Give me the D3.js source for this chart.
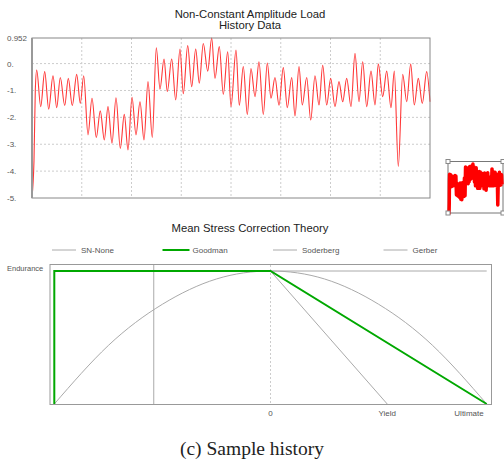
<!DOCTYPE html>
<html>
<head>
<meta charset="utf-8">
<script src="https://cdn.jsdelivr.net/npm/d3@7"></script>
<style>
  body { margin: 0; background: #fff; }
  text { font-family: "Liberation Sans", Arial, sans-serif; }
</style>
</head>
<body>
<div id="chart"></div>
<script>
// Load history (time index, load value)
var historyTime = [0, 2, 3.3, 4.7, 8.7, 12.7, 16.7, 21, 24.7, 28.3, 32.7, 36.3, 40.3, 44.7, 48.3, 51.7,
  56, 60, 64.3, 68.3, 72.3, 76, 80, 84, 88.3, 92.3, 96, 100, 104, 108, 112, 116, 120.3, 124.3, 128,
  132, 135.3, 139.7, 143.7, 148, 151.3, 155.7, 159.7, 163.7, 167.3, 171.3, 175.7, 179.7, 183, 187.3,
  191.3, 195.7, 199, 204, 207.3, 211.3, 215.3, 219, 223, 227, 231.3, 235.3, 239, 243, 247, 251.3,
  255.3, 259.7, 263, 267, 270.3, 274.7, 278.7, 283, 287, 290.7, 294.7, 298.7, 303, 307, 310.7, 314.7,
  319, 323, 327, 330.7, 334.7, 339, 343, 346.3, 350.7, 354.7, 359, 362.3, 366.3, 370.7, 374.7, 378.7,
  382.3, 386.3, 390.3, 394.7, 398];
var historyLoad = [-4.95, -3.6, -1.0, -0.24, -1.6, -0.3, -1.69, -0.45, -1.64, -0.52, -1.56, -0.55, -1.56, -0.4, -1.48, -0.45,
  -2.65, -1.29, -2.75, -1.76, -2.84, -1.6, -2.96, -1.27, -3.15, -1.89, -3.21, -1.25, -2.65, -1.42, -2.84, -0.67, -2.75, 0.59, -0.95,
  0.17, -1.04, 0.17, -1.35, 0.54, -1.12, 0.67, -0.86, 0.54, -0.73, 0.75, -0.28, 0.95, -0.55, 0.63,
  -1.14, 0.44, -1.6, 0.5, -1.55, -0.11, -1.89, -0.18, -1.23, 0.07, -1.89, 0.02, -1.29, -0.52, -1.55, -0.15,
  -1.64, -0.52, -1.95, -0.11, -1.54, -0.52, -2.1, -0.45, -1.54, -0.06, -1.54, -0.55, -1.6, -0.67, -1.42, -0.55,
  -1.6, 0.38, -1.42, 0.07, -1.6, -0.28, -1.54, -0.02, -1.23, -0.28, -1.64, -0.28, -3.83, -0.4, -1.42, -0.02,
  -1.54, -0.55, -1.48, -0.3, -1.42];
var loadTicks = [0.952, 0, -1, -2, -3, -4, -5];
var loadTickLabels = ["0.952", "0.", "-1.", "-2.", "-3.", "-4.", "-5."];
var loadGrid = [0, -1, -2, -3, -4];

// Mean stress diagram (mean stress / ultimate, alternating stress / endurance)
var theoryNames = ["SN-None", "Goodman", "Soderberg", "Gerber"];
var snNone = [[-1, 1], [1, 1]];
var goodman = [[-1, 0], [-1, 1], [0, 1], [1, 0]];
var soderberg = [[0, 1], [0.54, 0]];
var gerber = [[-1, 0], [-0.75, 0.44], [-0.5, 0.75], [-0.25, 0.94], [0, 1], [0.25, 0.94], [0.5, 0.75], [0.75, 0.44], [1, 0]];
var compYield = -0.54;
var stressTicks = [0, 0.54, 1];
var stressTickLabels = ["0", "Yield", "Ultimate"];

var svg = d3.select("#chart")
  .append("svg")
    .attr("width", 504)
    .attr("height", 461);

// ---------- history plot ----------
var x = d3.scaleLinear().domain([0, 398]).range([32, 430]);
var y = d3.scaleLinear().domain([-5, 0.952]).range([198, 38]);

svg.append("text")
    .attr("x", 250).attr("y", 17.5)
    .attr("text-anchor", "middle")
    .attr("font-size", "11.3px")
    .attr("fill", "#222")
    .text("Non-Constant Amplitude Load");
svg.append("text")
    .attr("x", 250).attr("y", 28.5)
    .attr("text-anchor", "middle")
    .attr("font-size", "11.3px")
    .attr("fill", "#222")
    .text("History Data");

// dashed grid
svg.append("g").selectAll("line")
    .data(loadGrid)
    .enter().append("line")
      .attr("x1", 32).attr("x2", 430)
      .attr("y1", function(d) { return y(d); })
      .attr("y2", function(d) { return y(d); })
      .attr("stroke", "#ccc")
      .attr("stroke-dasharray", "2,2");
svg.append("g").selectAll("line")
    .data(d3.range(1, 8))
    .enter().append("line")
      .attr("x1", function(d) { return x(398 * d / 8); })
      .attr("x2", function(d) { return x(398 * d / 8); })
      .attr("y1", 38).attr("y2", 198)
      .attr("stroke", "#ccc")
      .attr("stroke-dasharray", "2,2");

svg.append("g").selectAll("text")
    .data(loadTicks)
    .enter().append("text")
      .attr("x", 7)
      .attr("y", function(d) { return y(d) + 3; })
      .attr("font-size", "8px")
      .attr("fill", "#555")
      .text(function(d, i) { return loadTickLabels[i]; });

var loadPoints = historyTime.map(function(t, i) { return [t, historyLoad[i]]; });

svg.append("path")
    .datum(loadPoints)
    .attr("fill", "none")
    .attr("stroke", "#ff3838")
    .attr("stroke-width", 1.1)
    .attr("d", d3.line()
      .x(function(d) { return x(d[0]); })
      .y(function(d) { return y(d[1]); })
      .curve(d3.curveMonotoneX));

svg.append("rect")
    .attr("x", 32).attr("y", 38)
    .attr("width", 398).attr("height", 160)
    .attr("fill", "none")
    .attr("stroke", "#888");
svg.append("line")
    .attr("x1", 32).attr("x2", 32).attr("y1", 38).attr("y2", 198)
    .attr("stroke", "#999").attr("stroke-width", 2);

// ---------- thumbnail ----------
var xm = d3.scaleLinear().domain([0, 398]).range([449, 502]);
var ym = d3.scaleLinear().domain([-5, 0.952]).range([215, 164]);

svg.append("rect")
    .attr("x", 448).attr("y", 161.5)
    .attr("width", 55).attr("height", 51.5)
    .attr("fill", "#fff")
    .attr("stroke", "#777");
svg.append("path")
    .datum(loadPoints)
    .attr("fill", "none")
    .attr("stroke", "#ff0000")
    .attr("stroke-width", 3.5)
    .attr("stroke-linejoin", "round")
    .attr("d", d3.line()
      .x(function(d) { return xm(d[0]); })
      .y(function(d) { return ym(d[1]); }));
svg.append("g").selectAll("rect")
    .data([[448, 161.5], [503, 161.5], [448, 213], [503, 213]])
    .enter().append("rect")
      .attr("x", function(d) { return d[0] - 2; })
      .attr("y", function(d) { return d[1] - 2; })
      .attr("width", 4).attr("height", 4)
      .attr("fill", "#fff")
      .attr("stroke", "#888");

// ---------- mean stress correction ----------
var sx = d3.scaleLinear().domain([-1, 1]).range([54.3, 486.7]);
var sy = d3.scaleLinear().domain([0, 1]).range([404, 271]);

svg.append("text")
    .attr("x", 250).attr("y", 232)
    .attr("text-anchor", "middle")
    .attr("font-size", "11.3px")
    .attr("fill", "#222")
    .text("Mean Stress Correction Theory");

// legend
var legend = svg.append("g").selectAll("g")
    .data(theoryNames)
    .enter().append("g")
      .attr("transform", function(d, i) { return "translate(" + (52 + i * 110.5) + ",250)"; });
legend.append("line")
    .attr("x1", 0).attr("x2", function(d, i) { return i == 1 ? 27 : 24; })
    .attr("stroke", function(d, i) { return i == 1 ? "#00a800" : "#aaa"; })
    .attr("stroke-width", function(d, i) { return i == 1 ? 2 : 1; });
legend.append("text")
    .attr("x", function(d, i) { return i == 1 ? 30 : 29; })
    .attr("y", 3)
    .attr("font-size", "8px")
    .attr("fill", "#555")
    .text(function(d) { return d; });

svg.append("text")
    .attr("x", 7).attr("y", 271)
    .attr("font-size", "7.5px")
    .attr("fill", "#555")
    .text("Endurance");

svg.append("line")
    .attr("x1", sx(0)).attr("x2", sx(0))
    .attr("y1", 265).attr("y2", 404)
    .attr("stroke", "#ccc")
    .attr("stroke-dasharray", "2,2");
svg.append("line")
    .attr("x1", sx(compYield)).attr("x2", sx(compYield))
    .attr("y1", 265).attr("y2", 404)
    .attr("stroke", "#aaa");

var stressLine = d3.line()
    .x(function(d) { return sx(d[0]); })
    .y(function(d) { return sy(d[1]); });

svg.append("path")
    .datum(gerber)
    .attr("fill", "none").attr("stroke", "#aaa")
    .attr("d", stressLine.curve(d3.curveNatural));
stressLine.curve(d3.curveLinear);
svg.append("path")
    .datum(snNone)
    .attr("fill", "none").attr("stroke", "#aaa")
    .attr("d", stressLine);
svg.append("path")
    .datum(soderberg)
    .attr("fill", "none").attr("stroke", "#aaa")
    .attr("d", stressLine);
svg.append("path")
    .datum(goodman)
    .attr("fill", "none").attr("stroke", "#00a800")
    .attr("stroke-width", 2)
    .attr("d", stressLine);

svg.append("rect")
    .attr("x", 50).attr("y", 264.5)
    .attr("width", 441.5).attr("height", 140)
    .attr("fill", "none")
    .attr("stroke", "#999");

svg.append("g").selectAll("text")
    .data(stressTicks)
    .enter().append("text")
      .attr("x", function(d, i) { return i == 2 ? sx(d) - 3 : sx(d); })
      .attr("y", 416)
      .attr("text-anchor", function(d, i) { return i == 2 ? "end" : "middle"; })
      .attr("font-size", "8px")
      .attr("fill", "#555")
      .text(function(d, i) { return stressTickLabels[i]; });

// caption
svg.append("text")
    .attr("x", 252).attr("y", 455)
    .attr("text-anchor", "middle")
    .style("font-family", "'Liberation Serif', 'Times New Roman', serif")
    .attr("font-size", "19.5px")
    .attr("fill", "#222")
    .text("(c) Sample history");
</script>
</body>
</html>
